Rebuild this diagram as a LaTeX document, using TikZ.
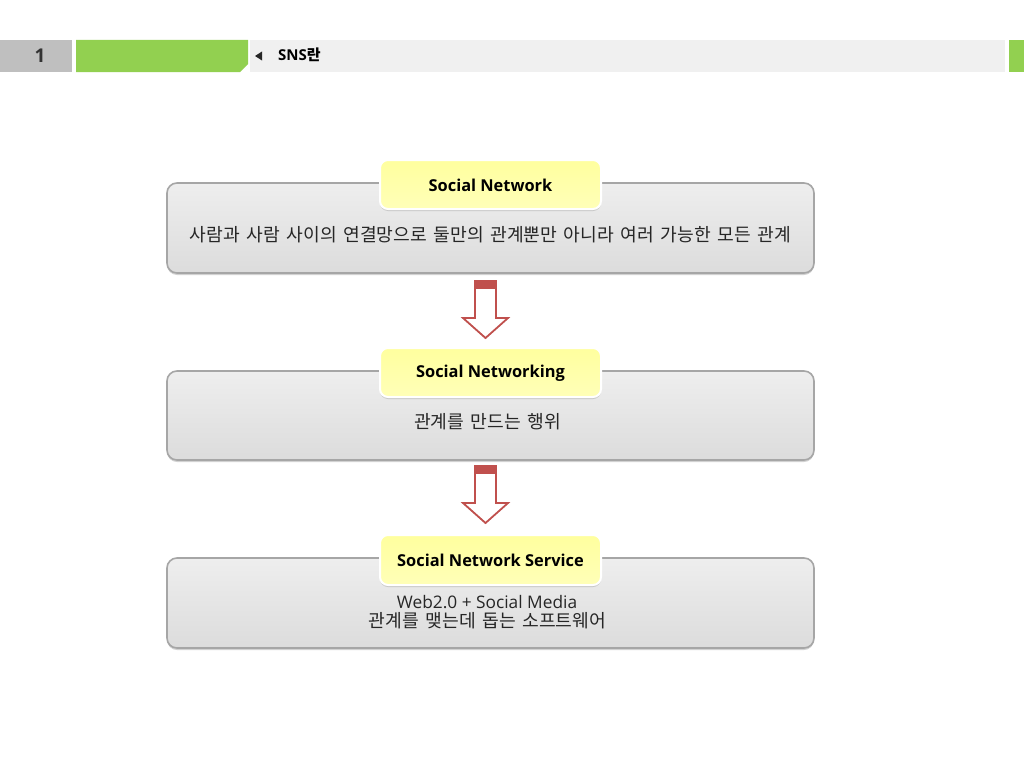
\documentclass[tikz,border=0pt]{standalone}
\usepackage{fontspec}
\setmainfont{Open Sans}
\newfontfamily\cjk[WordSpace=1.6]{Noto Sans CJK KR}
\usetikzlibrary{shadows,calc}
\definecolor{hdrgray}{HTML}{BFBFBF}
\definecolor{hdrgreen}{HTML}{92D050}
\definecolor{hdrlight}{HTML}{F0F0F0}
\definecolor{boxtop}{HTML}{EEEEEE}
\definecolor{boxbot}{HTML}{DCDCDC}
\definecolor{boxline}{HTML}{A6A6A6}
\definecolor{ytop}{HTML}{FFFF9E}
\definecolor{ybot}{HTML}{FFFFB8}
\definecolor{arrred}{HTML}{C0504D}
\tikzset{
  panel/.style={rounded corners=10pt, draw=boxline, line width=1.6pt,
    top color=boxtop, bottom color=boxbot,
    drop shadow={shadow xshift=0pt, shadow yshift=-2pt, opacity=0.35}},
  titlebox/.style={rounded corners=8pt, draw=white, line width=2pt,
    top color=ytop, bottom color=ybot,
    drop shadow={shadow xshift=0pt, shadow yshift=-2pt, opacity=0.3}},
  titletext/.style={font=\fontsize{16.4}{19}\selectfont\bfseries, text=black},
  bodytext/.style={font=\cjk\fontsize{18.2}{20}\selectfont, text=black!85, align=center},
  hollowarrow/.style={draw=arrred, line width=1.8pt, fill=white, line join=miter},
}
\begin{document}
\begin{tikzpicture}[x=1pt,y=-1pt]
\useasboundingbox (0,0) rectangle (1024,768);
\fill[white] (0,0) rectangle (1024,768);
% header
\fill[hdrgray] (0,40) rectangle (72,72);
\node[font=\fontsize{19}{22}\selectfont\bfseries, text=black!80] (pnum) at (40,56) {1};
\fill[hdrgreen] (76,40) -- (248,40) -- (248,64) -- (240,72) -- (76,72) -- cycle;
\fill[hdrlight] (250,40) rectangle (1005,72);
\fill[hdrgreen] (1009,40) rectangle (1024,72);
\fill[black!85] (255,56) -- (262,51.5) -- (262,60.5) -- cycle;
\node[anchor=west, inner sep=0pt, font=\fontsize{15}{18}\selectfont\bfseries] (hdr) at (278,55) {SNS{\cjk 란}};

% panel 1
\path[panel] (167,183) rectangle (814,273);
\path[titlebox] (380,160) rectangle (601,209);
\node[titletext] (t1) at (490.5,185) {Social Network};
\node[bodytext] (b1) at (490.5,235) {사람과 사람 사이의 연결망으로 둘만의 관계뿐만 아니라 여러 가능한 모든 관계};

% arrow 1
\path[hollowarrow] (475,281) -- (496,281) -- (496,318) -- (508,318) -- (485.5,338) -- (463,318) -- (475,318) -- cycle;
\fill[arrred] (474.2,280.2) rectangle (496.8,289);

% panel 2
\path[panel] (167,371) rectangle (814,460);
\path[titlebox] (380,348) rectangle (601,397);
\node[titletext] (t2) at (490.5,373) {Social Networking};
\node[bodytext] (b2) at (487.5,422) {관계를 만드는 행위};

% arrow 2
\path[hollowarrow] (475,466) -- (496,466) -- (496,503) -- (508,503) -- (485.5,523) -- (463,503) -- (475,503) -- cycle;
\fill[arrred] (474.2,465.2) rectangle (496.8,474);

% panel 3
\path[panel] (167,558) rectangle (814,648);
\path[titlebox] (380,535) rectangle (601,585);
\node[titletext] (t3) at (490.5,560) {Social Network Service};
\node[font=\fontsize{17.3}{20}\selectfont, text=black!85] (b3a) at (487,602) {Web2.0 + Social Media};
\node[bodytext] (b3b) at (487.5,621) {관계를 맺는데 돕는 소프트웨어};
\end{tikzpicture}
\end{document}
